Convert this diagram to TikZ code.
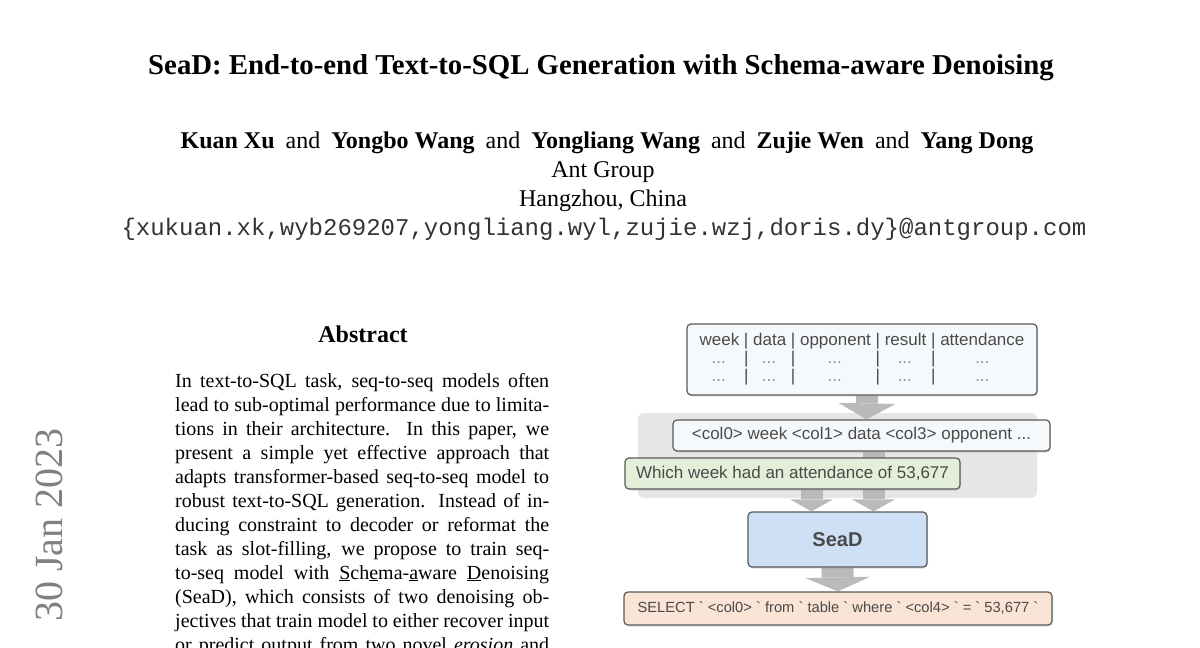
\documentclass[tikz,border=0pt]{standalone}
\usepackage{fontspec}
\setmainfont{Liberation Serif}
\setsansfont{Liberation Sans}
\setmonofont{Liberation Mono}
\usetikzlibrary{arrows.meta,shadows}
\pgfdeclarelayer{back}
\pgfdeclarelayer{links}
\pgfsetlayers{back,links,main}
\definecolor{boxline}{HTML}{595959}
\definecolor{figtext}{HTML}{4A4A4A}
\definecolor{dotgray}{HTML}{8C8C8C}
\definecolor{tabfill}{HTML}{F6F9FC}
\definecolor{regionfill}{HTML}{E6E6E6}
\definecolor{qfill}{HTML}{E3EFD9}
\definecolor{seadfill}{HTML}{CEE0F6}
\definecolor{sqlfill}{HTML}{FAE4D5}
\definecolor{arrowgray}{HTML}{BABABA}
\definecolor{stampgray}{HTML}{808080}
\definecolor{mailtext}{HTML}{333333}
\newcommand{\rowdots}{\textcolor{dotgray}{...}}
\newcommand{\bq}{\textasciigrave}
\tikzset{
  figbox/.style={draw=boxline, line width=1.2pt, rounded corners=4pt, inner sep=0pt, text=figtext,
    font=\sffamily\fontsize{17}{18}\selectfont,
    drop shadow={opacity=0.25, shadow xshift=1pt, shadow yshift=-1.5pt}},
  bigarrow/.style={draw=arrowgray, line cap=butt},
  absline/.style={anchor=base west, inner sep=0pt, font=\fontsize{20}{24}\selectfont},
  headline/.style={anchor=base, inner sep=0pt, font=\fontsize{24}{29}\selectfont},
}

\begin{document}
\begin{tikzpicture}[x=1pt,y=-1pt]
\clip (0,0) rectangle (1200,648);
% title block
\node[anchor=base, inner sep=0pt, font=\fontsize{28.8}{34}\selectfont\bfseries] (title) at (601,74) {SeaD: End-to-end Text-to-SQL Generation with Schema-aware Denoising};
\node[headline] (authors) at (607,148) {\textbf{Kuan Xu}\hspace{11pt}and\hspace{11pt}\textbf{Yongbo Wang}\hspace{11pt}and\hspace{11pt}\textbf{Yongliang Wang}\hspace{11pt}and\hspace{11pt}\textbf{Zujie Wen}\hspace{11pt}and\hspace{11pt}\textbf{Yang Dong}};
\node[headline] (org) at (603,177) {Ant Group};
\node[headline] (city) at (603,206) {Hangzhou, China};
\node[headline, text=mailtext, font=\ttfamily\fontsize{24}{29}\selectfont] (mail) at (604,235) {\{xukuan.xk,wyb269207,yongliang.wyl,zujie.wzj,doris.dy\}@antgroup.com};
% abstract
\node[headline, font=\fontsize{24}{29}\selectfont\bfseries] (abshead) at (363,342) {Abstract};
\node[absline] (l1) at (175,387) {\makebox[374pt][s]{In text-to-SQL task, seq-to-seq models often}};
\node[absline] (l2) at (175,411) {\makebox[374pt][s]{lead to sub-optimal performance due to limita-}};
\node[absline] (l3) at (175,435) {\makebox[374pt][s]{tions in their architecture.  In this paper, we}};
\node[absline] (l4) at (175,459) {\makebox[374pt][s]{present a simple yet effective approach that}};
\node[absline] (l5) at (175,483) {\makebox[374pt][s]{adapts transformer-based seq-to-seq model to}};
\node[absline] (l6) at (175,507) {\makebox[374pt][s]{robust text-to-SQL generation.  Instead of in-}};
\node[absline] (l7) at (175,531) {\makebox[374pt][s]{ducing constraint to decoder or reformat the}};
\node[absline] (l8) at (175,555) {\makebox[374pt][s]{task as slot-filling, we propose to train seq-}};
\node[absline] (l9) at (175,579) {\makebox[374pt][s]{to-seq model with \underline{S}ch\underline{e}ma-\underline{a}ware \underline{D}enoising}};
\node[absline] (l10) at (175,603) {\makebox[374pt][s]{(SeaD), which consists of two denoising ob-}};
\node[absline] (l11) at (175,627) {\makebox[374pt][s]{jectives that train model to either recover input}};
\node[absline] (l12) at (175,651) {\makebox[374pt][s]{or predict output from two novel \emph{erosion} and}};
% side stamp
\node[rotate=90, anchor=base west, inner sep=0pt, text=stampgray, font=\fontsize{40}{48}\selectfont] (stamp) at (62,622) {30 Jan 2023};
% figure
\begin{pgfonlayer}{back}
  \fill[regionfill, rounded corners=6pt] (638,413) rectangle (1037,498);
\end{pgfonlayer}
\node[figbox, fill=tabfill, minimum width=350pt, minimum height=71pt] (tab) at (862,359.5) {\begin{tabular}{c@{ | }c@{ | }c@{ | }c@{ | }c}
week & data & opponent & result & attendance\\
\rowdots & \rowdots & \rowdots & \rowdots & \rowdots\\
\rowdots & \rowdots & \rowdots & \rowdots & \rowdots
\end{tabular}};
\node[figbox, fill=tabfill, minimum width=377pt, minimum height=31pt] (cols) at (861.5,435.5) {<col0> week <col1> data <col3> opponent ...};
\node[figbox, fill=qfill, minimum width=335pt, minimum height=31pt] (quest) at (792.5,473.5) {Which week had an attendance of 53,677};
\node[figbox, fill=seadfill, minimum width=179pt, minimum height=55pt, font=\sffamily\bfseries\fontsize{20}{24}\selectfont] (sead) at (837.5,539.5) {SeaD};
\node[figbox, fill=sqlfill, minimum width=428pt, minimum height=33pt, font=\sffamily\fontsize{14.7}{18}\selectfont] (sql) at (838,608.5) {SELECT \bq{} <col0> \bq{} from \bq{} table \bq{} where \bq{} <col4> \bq{} = \bq{} 53,677 \bq};
\begin{pgfonlayer}{links}
  \draw[bigarrow, line width=22pt, -{Triangle[width=57pt,length=16pt,line width=0pt]}] ([xshift=5pt]tab.south) -- ([xshift=5pt]cols.north);
  \draw[bigarrow, line width=22pt, -{Triangle[width=43pt,length=12pt,line width=0pt]}] ([xshift=12pt]cols.south) -- ([xshift=12pt]cols.south |- sead.north);
  \draw[bigarrow, line width=22pt, -{Triangle[width=43pt,length=12pt,line width=0pt]}] ([xshift=19pt]quest.south) -- ([xshift=19pt]quest.south |- sead.north);
  \draw[bigarrow, line width=32pt, -{Triangle[width=65pt,length=14pt,line width=0pt]}] (sead.south) -- (sql.north);
\end{pgfonlayer}
\end{tikzpicture}
\end{document}
